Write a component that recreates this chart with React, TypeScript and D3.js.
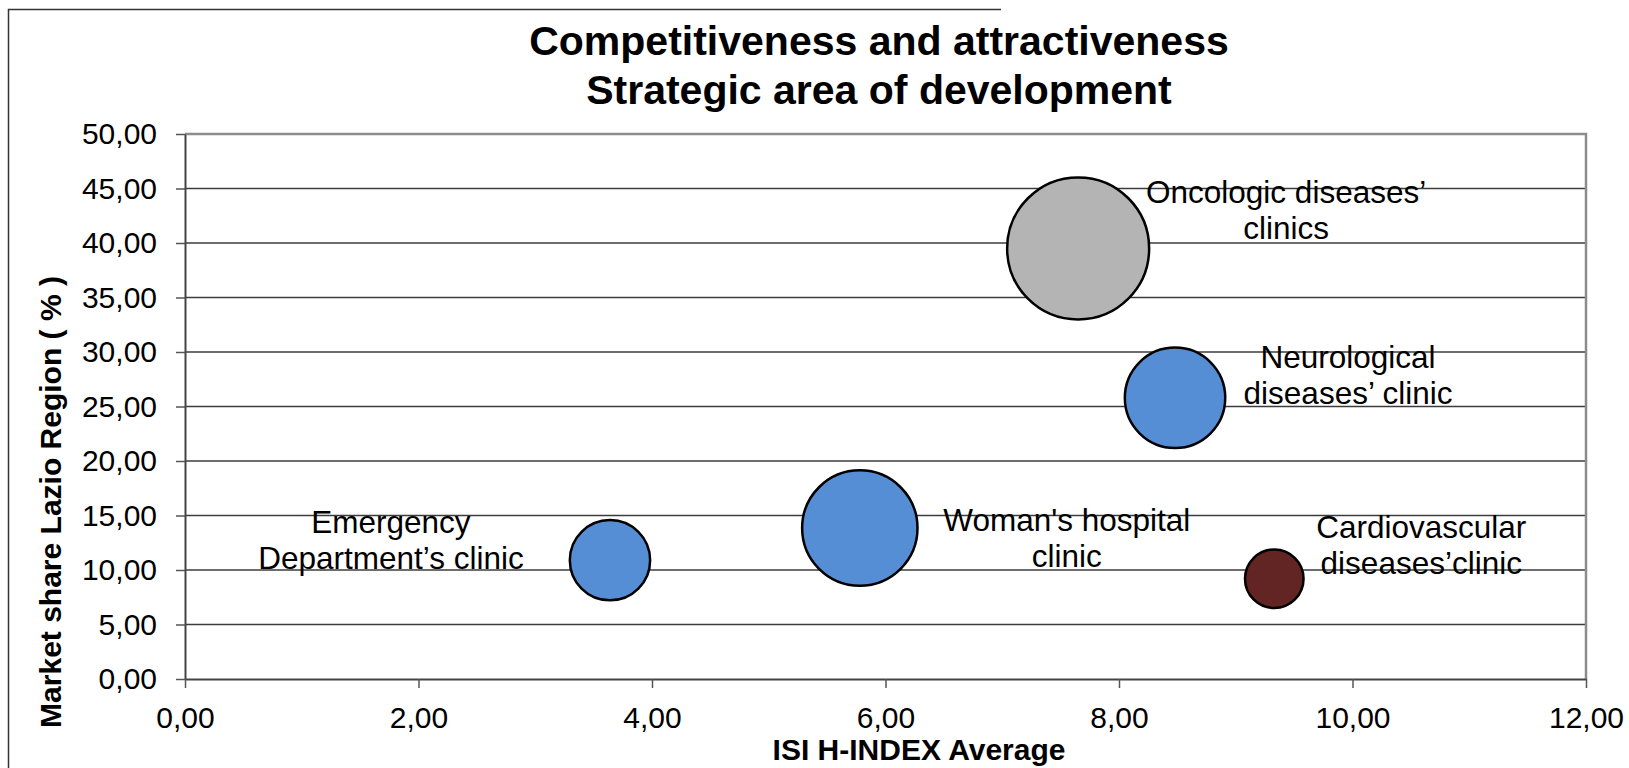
import React, { useEffect, useRef } from "react";
import * as d3 from "d3";

// clinics
const clinics = [
  "Emergency Department’s clinic",
  "Woman's hospital clinic",
  "Oncologic diseases’ clinics",
  "Neurological diseases’ clinic",
  "Cardiovascular diseases’clinic",
];
const labelLines = [
  ["Emergency", "Department’s clinic"],
  ["Woman's hospital", "clinic"],
  ["Oncologic diseases’", "clinics"],
  ["Neurological", "diseases’ clinic"],
  ["Cardiovascular", "diseases’clinic"],
];
const hIndex = [3.64, 5.78, 7.65, 8.48, 9.33];
const marketShare = [10.9, 13.85, 39.5, 25.8, 9.2];
const bubbleSize = [16, 33, 50, 25, 8.5];

const xTicks = [0, 2, 4, 6, 8, 10, 12];
const yTicks = [0, 5, 10, 15, 20, 25, 30, 35, 40, 45, 50];

// styling (kept apart from the data)
const bubbleFill = ["#558ed5", "#558ed5", "#b4b4b4", "#558ed5", "#632523"];
const labelOffset = [
  [-219, -27],
  [207, 3],
  [208, -45],
  [173, -30],
  [147, -41],
];

const W = 1629;
const H = 768;
const FONT = "'Liberation Sans', Arial, sans-serif";

export default function App() {
  const ref = useRef<SVGSVGElement | null>(null);

  useEffect(() => {
    if (!ref.current) return;
    const svg = d3.select(ref.current);
    svg.selectAll("*").remove();

    const x = d3.scaleLinear([0, 12], [185, 1586]);
    const y = d3.scaleLinear([0, 50], [679, 134]);
    const r = d3.scaleSqrt([0, 50], [0, 71]);

    const loc = d3.formatLocale({
      decimal: ",",
      thousands: ".",
      grouping: [3],
      currency: ["", "€"],
    });
    const fmt = loc.format(".2f");

    svg.append("rect").attr("width", W).attr("height", H).attr("fill", "#fff");

    // outer frame (only left + part of top visible)
    svg
      .append("path")
      .attr("d", "M8.5,768 V9.5 H1001")
      .attr("fill", "none")
      .attr("stroke", "#333")
      .attr("stroke-width", 1.5);

    // title
    const title = svg
      .append("text")
      .attr("text-anchor", "middle")
      .attr("font-family", FONT)
      .attr("font-weight", "bold")
      .attr("font-size", 41);
    title.append("tspan").attr("x", 879).attr("y", 55).text("Competitiveness and attractiveness");
    title.append("tspan").attr("x", 879).attr("y", 104).text("Strategic area of development");

    // gridlines
    svg
      .append("g")
      .selectAll("line")
      .data(yTicks.filter((d) => d > 0 && d < 50))
      .enter()
      .append("line")
      .attr("x1", x(0))
      .attr("x2", x(12))
      .attr("y1", (d) => y(d))
      .attr("y2", (d) => y(d))
      .attr("stroke", "#3c3c3c")
      .attr("stroke-width", 1.5);

    // plot border top + right
    svg
      .append("path")
      .attr("d", `M${x(0)},${y(50)} H${x(12)} V${y(0)}`)
      .attr("fill", "none")
      .attr("stroke", "#8c8c8c")
      .attr("stroke-width", 2.5);

    // axes
    const yaxis = d3
      .axisLeft(y)
      .tickValues(yTicks)
      .tickSize(9)
      .tickSizeOuter(0)
      .tickPadding(19)
      .tickFormat((d) => fmt(+d));
    const gy = svg.append("g").attr("transform", `translate(${x(0)},0)`).call(yaxis);

    const xaxis = d3
      .axisBottom(x)
      .tickValues(xTicks)
      .tickSize(9)
      .tickSizeOuter(0)
      .tickPadding(19)
      .tickFormat((d) => fmt(+d));
    const gx = svg.append("g").attr("transform", `translate(0,${y(0)})`).call(xaxis);

    [gx, gy].forEach((g) => {
      g.select(".domain").attr("stroke", "#444").attr("stroke-width", 2);
      g.selectAll(".tick line").attr("stroke", "#555").attr("stroke-width", 1.5);
      g.selectAll("text")
        .attr("font-family", FONT)
        .attr("font-size", 30)
        .attr("fill", "#000");
    });

    // bubbles, biggest drawn first
    const idx = d3.range(clinics.length).sort((a, b) => bubbleSize[b] - bubbleSize[a]);
    svg
      .append("g")
      .selectAll("circle")
      .data(idx)
      .enter()
      .append("circle")
      .attr("cx", (i) => x(hIndex[i]))
      .attr("cy", (i) => y(marketShare[i]))
      .attr("r", (i) => r(bubbleSize[i]))
      .attr("fill", (i) => bubbleFill[i])
      .attr("stroke", "#000")
      .attr("stroke-width", 2.5);

    // data labels
    const labels = svg
      .append("g")
      .selectAll("text")
      .data(d3.range(clinics.length))
      .enter()
      .append("text")
      .attr("text-anchor", "middle")
      .attr("font-family", FONT)
      .attr("font-size", 31.5)
      .attr("fill", "#000");
    labels.each(function (i) {
      const cx = x(hIndex[i]) + labelOffset[i][0];
      const cy = y(marketShare[i]) + labelOffset[i][1];
      labelLines[i].forEach((line, k) => {
        d3.select(this)
          .append("tspan")
          .attr("x", cx)
          .attr("y", cy + k * 36)
          .text(line);
      });
    });

    // axis titles
    svg
      .append("text")
      .attr("x", 919)
      .attr("y", 760)
      .attr("text-anchor", "middle")
      .attr("font-family", FONT)
      .attr("font-weight", "bold")
      .attr("font-size", 30)
      .text("ISI H-INDEX Average");

    svg
      .append("text")
      .attr("transform", "translate(61,502) rotate(-90)")
      .attr("text-anchor", "middle")
      .attr("font-family", FONT)
      .attr("font-weight", "bold")
      .attr("font-size", 30)
      .text("Market share Lazio Region ( % )");
  });

  return (
    <svg
      ref={ref}
      width={W}
      height={H}
      style={{ position: "absolute", left: 0, top: 0, display: "block" }}
    ></svg>
  );
}
